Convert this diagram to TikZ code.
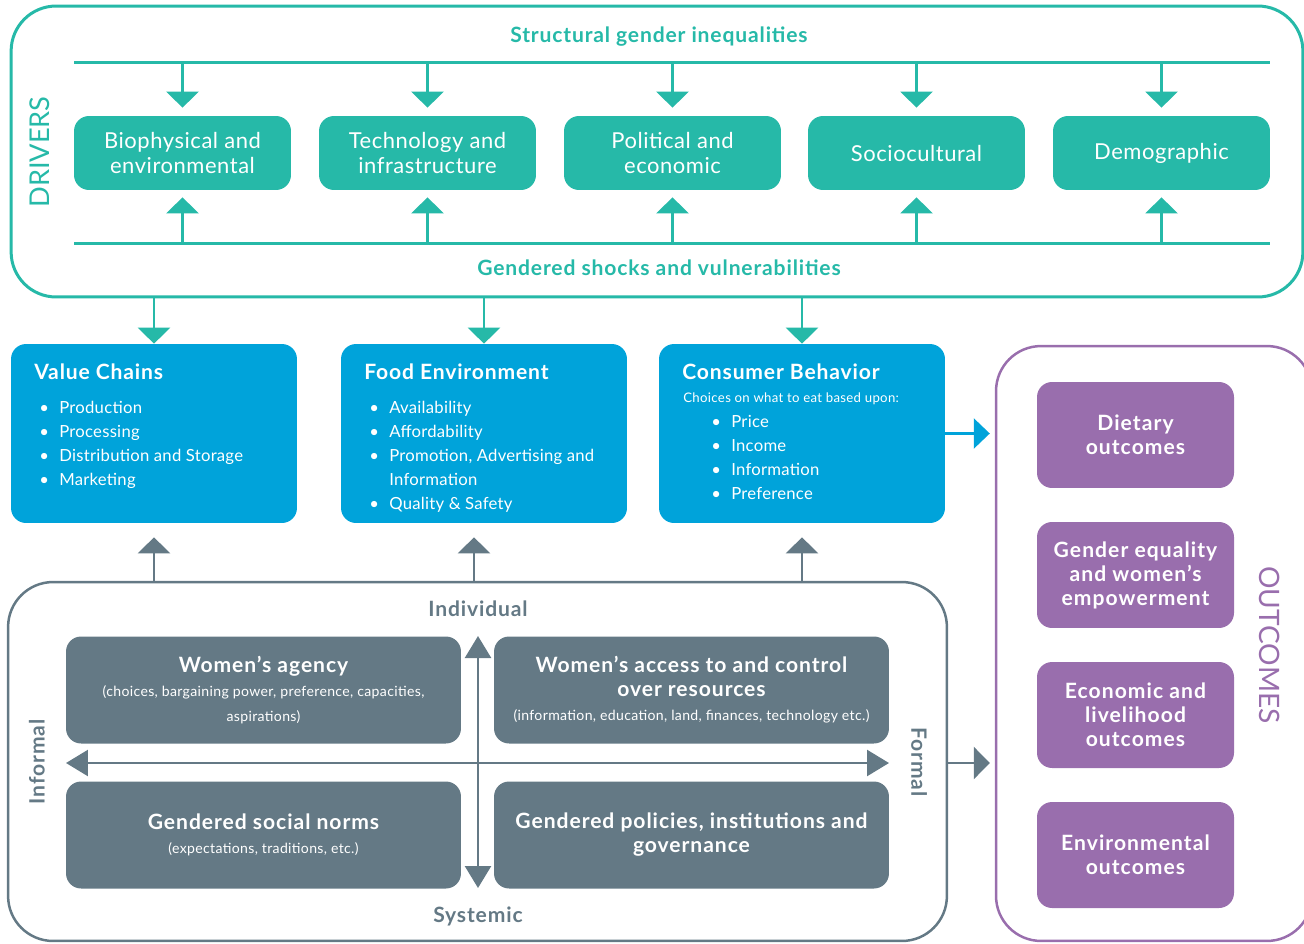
\documentclass[tikz,border=0pt]{standalone}
\usepackage{fontspec}
\setmainfont{Lato}
\usetikzlibrary{arrows.meta}

\definecolor{drvteal}{RGB}{38,185,168}
\definecolor{sysblue}{RGB}{0,163,218}
\definecolor{gengray}{RGB}{100,121,133}
\definecolor{outpurple}{RGB}{153,110,173}

\newcommand{\bl}{\makebox[0.4cm][l]{\textbullet}}
\newcommand{\trk}[1]{\addfontfeature{LetterSpace=#1}}

\tikzset{
  drvframe/.style={draw=drvteal, line width=0.06cm, rounded corners=0.9cm, minimum width=25.84cm, minimum height=5.82cm},
  drvbox/.style={fill=drvteal, text=white, rounded corners=0.3cm, minimum width=4.34cm, minimum height=1.48cm, align=center, font=\fontsize{12.5}{13.7}\selectfont\trk{2.5}},
  tealhead/.style={text=drvteal, font=\fontsize{12}{14}\selectfont\bfseries\trk{4}},
  tealline/.style={draw=drvteal, line width=0.06cm},
  tealarrow/.style={draw=drvteal, fill=drvteal, line width=0.05cm, -{Triangle[width=0.64cm,length=0.32cm]}},
  sysbox/.style={fill=sysblue, rounded corners=0.3cm, minimum width=5.72cm, minimum height=3.58cm},
  systitle/.style={text=white, anchor=west, inner sep=0pt, font=\fontsize{12}{14}\selectfont\bfseries\trk{4}},
  syslist/.style={text=white, anchor=north west, align=left, inner sep=0pt, font=\fontsize{9.5}{13.7}\selectfont\trk{1.5}},
  bluearrow/.style={draw=sysblue, fill=sysblue, line width=0.05cm, shorten >=0.1cm, -{Triangle[width=0.6cm,length=0.32cm]}},
  genframe/.style={draw=gengray, line width=0.05cm, rounded corners=0.9cm, minimum width=18.78cm, minimum height=7.18cm},
  quadbox/.style={fill=gengray, text=white, rounded corners=0.3cm, minimum width=7.9cm, minimum height=2.14cm, align=center, font=\fontsize{12}{13.7}\selectfont\bfseries\trk{4.5}},
  axislabel/.style={text=gengray, font=\fontsize{12}{14}\selectfont\bfseries\trk{4}},
  grayarrow/.style={draw=gengray, fill=gengray, line width=0.05cm, -{Triangle[width=0.64cm,length=0.32cm]}},
  quadarrow/.style={draw=gengray, fill=gengray, line width=0.05cm, {Triangle[width=0.52cm,length=0.44cm]}-{Triangle[width=0.52cm,length=0.44cm]}},
  outframe/.style={draw=outpurple, line width=0.05cm, rounded corners=0.9cm, minimum width=6.32cm, minimum height=11.9cm},
  outbox/.style={fill=outpurple, text=white, rounded corners=0.3cm, minimum width=3.94cm, minimum height=2.12cm, align=center, font=\fontsize{12}{13.7}\selectfont\bfseries\trk{5}}
}

\newcommand{\subtxt}{\fontsize{8}{13.7}\selectfont\mdseries\trk{2.5}}

\begin{document}
\begin{tikzpicture}[x=0.02cm,y=-0.02cm]
    \useasboundingbox (0,0) rectangle (1304,943);

    % Drivers
    \node[drvframe] (drivers) at (657,151.5) {};
    \node[rotate=90, text=drvteal, font=\fontsize{15.5}{18}\selectfont] (drvlabel) at (40,152) {DRIVERS};
    \node[tealhead] (sgi) at (659,37) {Structural gender inequalities};
    \node[tealhead] (gsv) at (659,268) {Gendered shocks and vulnerabilities};

    \coordinate (topL) at (74,62);
    \coordinate (topR) at (1270,62);
    \coordinate (botL) at (74,243);
    \coordinate (botR) at (1270,243);
    \draw[tealline] (topL) -- (topR);
    \draw[tealline] (botL) -- (botR);

    \node[drvbox] (bio) at (182.5,153) {Biophysical and\\environmental};
    \node[drvbox] (tech) at (427.5,153) {Technology and\\infrastructure};
    \node[drvbox] (pol) at (672.5,153) {Political and\\economic};
    \node[drvbox] (soc) at (916.5,153) {Sociocultural};
    \node[drvbox] (dem) at (1161.5,153) {Demographic};

    \draw[tealarrow, shorten >=0.16cm] (bio.north |- topL) -- (bio.north);
    \draw[tealarrow, shorten >=0.16cm] (tech.north |- topL) -- (tech.north);
    \draw[tealarrow, shorten >=0.16cm] (pol.north |- topL) -- (pol.north);
    \draw[tealarrow, shorten >=0.16cm] (soc.north |- topL) -- (soc.north);
    \draw[tealarrow, shorten >=0.16cm] (dem.north |- topL) -- (dem.north);

    \draw[tealarrow, shorten >=0.14cm] (bio.south |- botL) -- (bio.south);
    \draw[tealarrow, shorten >=0.14cm] (tech.south |- botL) -- (tech.south);
    \draw[tealarrow, shorten >=0.14cm] (pol.south |- botL) -- (pol.south);
    \draw[tealarrow, shorten >=0.14cm] (soc.south |- botL) -- (soc.south);
    \draw[tealarrow, shorten >=0.14cm] (dem.south |- botL) -- (dem.south);

    % Food system
    \node[sysbox] (vc) at (154,433.5) {};
    \node[systitle] (vct) at (34,372) {Value Chains};
    \node[syslist] (vcl) at (39,401) {\bl Production\\\bl Processing\\\bl Distribution and Storage\\\bl Marketing};

    \node[sysbox] (fe) at (484,433.5) {};
    \node[systitle] (fet) at (364,372) {Food Environment};
    \node[syslist] (fel) at (369,401) {\bl Availability\\\bl Affordability\\\bl Promotion, Advertising and\\\hspace*{0.4cm}Information\\\bl Quality \& Safety};

    \node[sysbox] (cb) at (802,433.5) {};
    \node[systitle] (cbt) at (682,372) {Consumer Behavior};
    \node[systitle, font=\fontsize{7.5}{9}\selectfont\trk{2.5}] (cbc) at (683,399) {Choices on what to eat based upon:};
    \node[syslist] (cbl) at (711,415) {\bl Price\\\bl Income\\\bl Information\\\bl Preference};

    \draw[tealarrow] (vc.north |- drivers.south) -- (vc.north);
    \draw[tealarrow] (fe.north |- drivers.south) -- (fe.north);
    \draw[tealarrow] (cb.north |- drivers.south) -- (cb.north);

    % Gender
    \node[genframe] (gend) at (477.5,761.5) {};
    \node[axislabel] (indiv) at (478,609) {Individual};
    \node[axislabel] (syst) at (478,916) {Systemic};
    \node[axislabel, rotate=90] (inform) at (37,762) {Informal};
    \node[axislabel, rotate=-90] (form) at (919,762) {Formal};

    \node[quadbox] (agency) at (263.5,690) {Women’s agency\\{\subtxt (choices, bargaining power, preference, capacities,}\\{\subtxt aspirations)}};
    \node[quadbox] (access) at (691.5,690) {Women’s access to and control\\over resources\\{\subtxt (information, education, land, finances, technology etc.)}};
    \node[quadbox] (norms) at (263.5,835) {Gendered social norms\\{\subtxt (expectations, traditions, etc.)}};
    \node[quadbox] (policy) at (691.5,835) {Gendered policies, institutions and\\governance};

    \coordinate (hL) at (66,763);
    \coordinate (hR) at (889,763);
    \coordinate (vT) at (478,636);
    \coordinate (vB) at (478,888);
    \draw[quadarrow] (hL) -- (hR);
    \draw[quadarrow] (vT) -- (vB);

    \path ([xshift=-0.2cm]fe.south) coordinate (feg);
    \draw[grayarrow, shorten >=0.28cm] (vc.south |- gend.north) -- (vc.south);
    \draw[grayarrow, shorten >=0.28cm] (feg |- gend.north) -- (feg);
    \draw[grayarrow, shorten >=0.28cm] (cb.south |- gend.north) -- (cb.south);

    % Outcomes
    \node[outframe] (outc) at (1154,643.5) {};
    \node[rotate=-90, text=outpurple, font=\fontsize{16}{18}\selectfont] (outlabel) at (1270,645) {OUTCOMES};
    \node[outbox] (diet) at (1135.5,435) {Dietary\\outcomes};
    \node[outbox] (equal) at (1135.5,575) {Gender equality\\and women’s\\empowerment};
    \node[outbox] (econ) at (1135.5,715) {Economic and\\livelihood\\outcomes};
    \node[outbox] (envir) at (1135.5,855) {Environmental\\outcomes};

    \draw[bluearrow] (cb.east) -- (outc.west |- cb.east);
    \draw[grayarrow, shorten >=0.1cm] (gend.east |- hR) -- (outc.west |- hR);
\end{tikzpicture}
\end{document}
